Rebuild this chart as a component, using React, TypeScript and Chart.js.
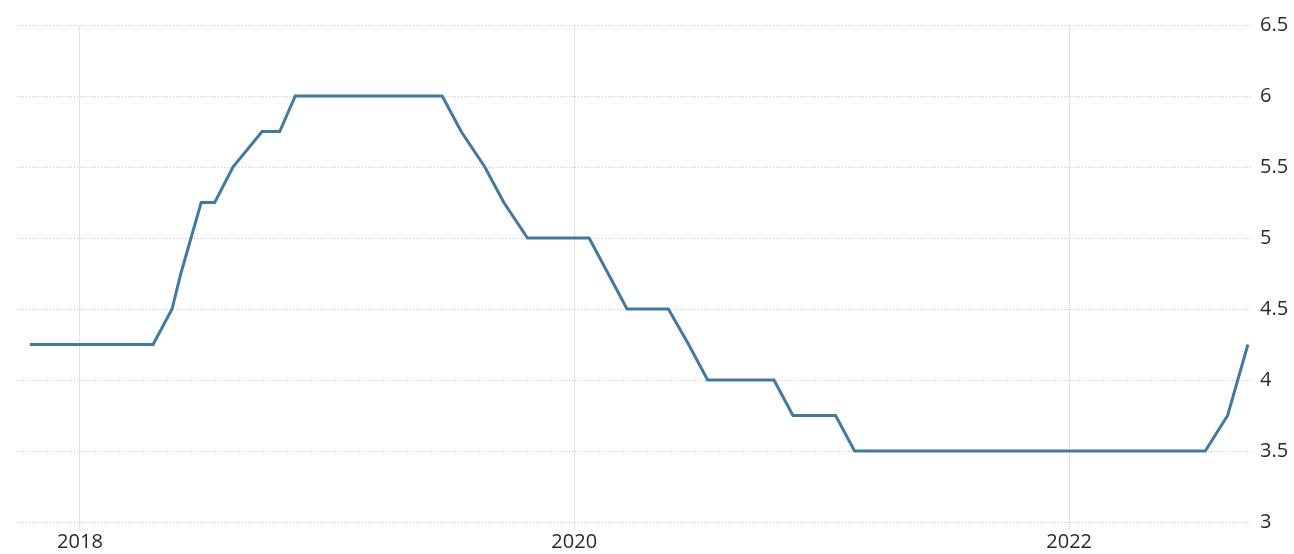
import React, { useEffect, useRef } from "react";
import { Chart, registerables } from "chart.js";

Chart.register(...registerables);

// Decision dates and policy rate (%)
const dates: string[] = [
  "2017-10-19", "2017-11-16", "2017-12-14",
  "2018-01-18", "2018-02-15", "2018-03-22", "2018-04-19", "2018-05-17", "2018-05-30",
  "2018-06-29", "2018-07-19", "2018-08-15", "2018-09-27", "2018-10-23", "2018-11-15", "2018-12-20",
  "2019-01-17", "2019-02-21", "2019-03-21", "2019-04-25", "2019-05-16", "2019-06-20",
  "2019-07-18", "2019-08-22", "2019-09-19", "2019-10-24", "2019-11-21", "2019-12-19",
  "2020-01-23", "2020-02-20", "2020-03-19", "2020-04-14", "2020-05-19", "2020-06-18",
  "2020-07-16", "2020-08-19", "2020-09-17", "2020-10-22", "2020-11-19", "2020-12-17",
  "2021-01-21", "2021-02-18", "2021-03-18", "2021-04-20", "2021-05-25", "2021-06-17",
  "2021-07-22", "2021-08-19", "2021-09-21", "2021-10-19", "2021-11-18", "2021-12-16",
  "2022-01-20", "2022-02-10", "2022-03-17", "2022-04-19", "2022-05-24", "2022-06-23",
  "2022-07-21", "2022-08-23", "2022-09-22",
];
const rates: number[] = [
  4.25, 4.25, 4.25,
  4.25, 4.25, 4.25, 4.25, 4.5, 4.75,
  5.25, 5.25, 5.5, 5.75, 5.75, 6.0, 6.0,
  6.0, 6.0, 6.0, 6.0, 6.0, 6.0,
  5.75, 5.5, 5.25, 5.0, 5.0, 5.0,
  5.0, 4.75, 4.5, 4.5, 4.5, 4.25,
  4.0, 4.0, 4.0, 4.0, 3.75, 3.75,
  3.75, 3.5, 3.5, 3.5, 3.5, 3.5,
  3.5, 3.5, 3.5, 3.5, 3.5, 3.5,
  3.5, 3.5, 3.5, 3.5, 3.5, 3.5,
  3.5, 3.75, 4.25,
];
const xTickYears: number[] = [2018, 2020, 2022];
const yTicks: number[] = [3, 3.5, 4, 4.5, 5, 5.5, 6, 6.5];

const BASE = Date.UTC(2018, 0, 1);
const toDays = (s: string) => {
  const [y, m, d] = s.split("-").map(Number);
  return (Date.UTC(y, m - 1, d) - BASE) / 86400000;
};
const yearToDays = (y: number) => (Date.UTC(y, 0, 1) - BASE) / 86400000;

const FONT = "'Open Sans', 'DejaVu Sans', sans-serif";

export default function App() {
  const ref = useRef<HTMLCanvasElement | null>(null);
  useEffect(() => {
    document.body.style.margin = "0";
    const canvas = ref.current;
    if (!canvas) return;
    const points = dates.map((d, i) => ({ x: toDays(d), y: rates[i] }));
    const chart = new Chart(canvas, {
      type: "line",
      data: {
        datasets: [
          {
            data: points,
            borderColor: "#44799f",
            borderWidth: 3,
            pointRadius: 0,
            tension: 0,
            fill: false,
          },
        ],
      },
      options: {
        animation: false,
        responsive: false,
        maintainAspectRatio: false,
        layout: { padding: { top: 25, left: 17, right: 0, bottom: 0 } },
        plugins: { legend: { display: false }, tooltip: { enabled: false } },
        scales: {
          x: {
            type: "linear",
            min: -93,
            max: 1731,
            offset: false,
            afterBuildTicks: (scale: any) => {
              scale.ticks = xTickYears.map((y) => ({ value: yearToDays(y) }));
            },
            afterFit: (scale: any) => {
              scale.height = 32;
            },
            ticks: {
              autoSkip: false,
              maxRotation: 0,
              padding: 0,
              color: "#2a2a2a",
              font: { family: FONT, size: 20 },
              callback: (v: any) => {
                const i = xTickYears.findIndex((y) => Math.abs(yearToDays(y) - v) < 1);
                return i >= 0 ? String(xTickYears[i]) : "";
              },
            },
            grid: {
              color: "#e2e2e2",
              lineWidth: 1,
              drawTicks: true,
              tickLength: 8,
            },
            border: { display: false },
          },
          y: {
            position: "right",
            min: 3,
            max: 6.5,
            afterBuildTicks: (scale: any) => {
              scale.ticks = yTicks.map((v) => ({ value: v }));
            },
            afterFit: (scale: any) => {
              scale.width = 42;
            },
            ticks: {
              padding: 8,
              color: "#2a2a2a",
              font: { family: FONT, size: 20 },
              callback: (v: any) => String(v),
            },
            grid: {
              color: "#c8c8c8",
              lineWidth: 1,
              drawTicks: false,
            },
            border: { display: false, dash: [1, 2] },
          },
        },
      },
    });
    return () => chart.destroy();
  }, []);
  return (
    <div style={{ width: 1294, height: 554 }}>
      <canvas ref={ref} width={1294} height={554} style={{ display: "block" }} />
    </div>
  );
}
